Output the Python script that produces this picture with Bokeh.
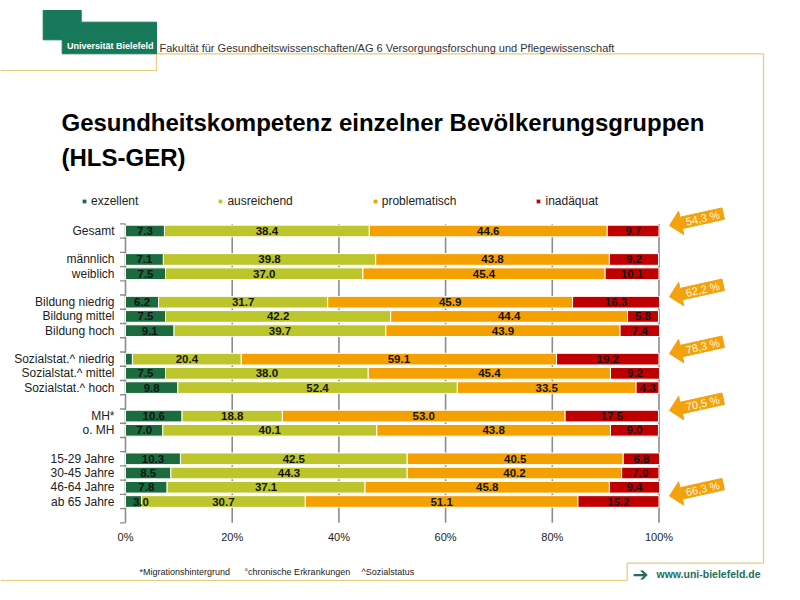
import math
from bokeh.plotting import figure
from bokeh.models import Range1d, ColumnDataSource, Legend, LegendItem
from bokeh.core.properties import value
from bokeh.embed import file_html
from bokeh.resources import INLINE

# ---------------- data ----------------
categories = ["Gesamt", "männlich", "weiblich",
              "Bildung niedrig", "Bildung mittel", "Bildung hoch",
              "Sozialstat.^ niedrig", "Sozialstat.^ mittel", "Sozialstat.^ hoch",
              "MH*", "o. MH",
              "15-29 Jahre", "30-45 Jahre", "46-64 Jahre", "ab 65 Jahre"]
group_sizes = [1, 2, 3, 3, 2, 4]
series = ["exzellent", "ausreichend", "problematisch", "inadäquat"]
exzellent = [7.3, 7.1, 7.5, 6.2, 7.5, 9.1, 1.3, 7.5, 9.8, 10.6, 7.0, 10.3, 8.5, 7.8, 3.0]
ausreichend = [38.4, 39.8, 37.0, 31.7, 42.2, 39.7, 20.4, 38.0, 52.4, 18.8, 40.1, 42.5, 44.3, 37.1, 30.7]
problematisch = [44.6, 43.8, 45.4, 45.9, 44.4, 43.9, 59.1, 45.4, 33.5, 53.0, 43.8, 40.5, 40.2, 45.8, 51.1]
inadaequat = [9.7, 9.2, 10.1, 16.3, 5.8, 7.4, 19.2, 9.2, 4.3, 17.5, 9.0, 6.8, 7.0, 9.4, 15.2]
x_ticks = [0, 20, 40, 60, 80, 100]
x_tick_labels = ["0%", "20%", "40%", "60%", "80%", "100%"]
highlight = ["Gesamt", "Bildung niedrig", "Sozialstat.^ niedrig", "MH*", "ab 65 Jahre"]
title_lines = ["Gesundheitskompetenz einzelner Bevölkerungsgruppen", "(HLS-GER)"]
header_text = "Fakultät für Gesundheitswissenschaften/AG 6 Versorgungsforschung und Pflegewissenschaft"
footnotes = ["*Migrationshintergrund", "°chronische Erkrankungen", "^Sozialstatus"]

colors = ["#1b6b3f", "#bcc62c", "#f4a000", "#c00000"]
values = [exzellent, ausreichend, problematisch, inadaequat]

# ---------------- layout helpers (reference pixel -> data) ----------------
W, H = 784, 584
X0, XS = 125.0, 5.335     # 0 % position and px per percent
Y0, YS = 230.5, 14.237    # first row position and px per row


def fx(px):
    return (px - X0) / XS


def fy(py):
    return (py - Y0) / YS


FONT = value("Liberation Sans")

p = figure(width=W, height=H, output_backend="svg", toolbar_location=None,
           x_range=Range1d(fx(0), fx(W)), y_range=Range1d(fy(H), fy(0)),
           min_border=0, outline_line_color=None)
p.xaxis.visible = False
p.yaxis.visible = False
p.grid.visible = False
p.background_fill_color = "white"
p.border_fill_color = "white"

# row positions with gaps between groups
rows = []
pos = 0
for g in group_sizes:
    for _ in range(g):
        rows.append(pos)
        pos += 1
    pos += 1
row_top = -0.5
row_bottom = rows[-1] + 1.5

# ---------------- frame decoration (header lines, logo) ----------------
line_col = "#e3cc7e"
bx = [0, 156, 156, 763, 763, 626.7, 626.7, 0]
by = [70, 70, 53.3, 53.3, 562.7, 562.7, 580, 580]
p.line([fx(v) for v in bx], [fy(v) for v in by], line_color=line_col, line_width=1.2)

logo_col = "#17785a"
p.quad(left=[fx(42.7), fx(42.7), fx(61.7)], right=[fx(80.7), fx(156), fx(156)],
       top=[fy(10), fy(21.7), fy(39.3)], bottom=[fy(21.7), fy(39.3), fy(53.3)],
       fill_color=logo_col, line_color=logo_col)
p.text(x=[fx(153)], y=[fy(45.5)], text=["Universität Bielefeld"], text_font=FONT,
       text_font_size="9px", text_font_style="bold", text_color="white",
       text_align="right", text_baseline="middle")
p.text(x=[fx(159)], y=[fy(47)], text=[header_text], text_font=FONT,
       text_font_size="11px", text_color="#333333", text_align="left", text_baseline="middle")

# title
p.text(x=[fx(61)] * 2, y=[fy(122), fy(157)], text=title_lines, text_font=FONT,
       text_font_size="24px", text_font_style="bold", text_color="#000000",
       text_align="left", text_baseline="middle")

# ---------------- axes / grid ----------------
grid_col = "#8c8c8c"
p.segment(x0=x_ticks, x1=x_ticks, y0=[row_top] * len(x_ticks), y1=[row_bottom] * len(x_ticks),
          line_color=grid_col, line_width=1.6)
bounds = [row_top + i for i in range(int(row_bottom - row_top) + 1)]
p.segment(x0=[fx(119.5)] * len(bounds), x1=[0] * len(bounds), y0=bounds, y1=bounds,
          line_color=grid_col, line_width=1.4)
p.text(x=x_ticks, y=[row_bottom + 1.0] * len(x_ticks), text=x_tick_labels, text_font=FONT,
       text_font_size="11px", text_color="#222222", text_align="center", text_baseline="middle")

# category labels
p.text(x=[fx(114)] * len(categories), y=rows, text=categories, text_font=FONT,
       text_font_size="12px", text_color="#222222", text_align="right", text_baseline="middle")

# ---------------- stacked bars ----------------
left = [0.0] * len(categories)
renderers = []
label_x, label_y, label_t = [], [], []
for name, vals, col in zip(series, values, colors):
    right = [l + v for l, v in zip(left, vals)]
    src = ColumnDataSource(dict(y=rows, left=left, right=right))
    r = p.hbar(y="y", left="left", right="right", height=0.82, source=src,
               fill_color=col, line_color="white", line_width=1)
    renderers.append(r)
    for l, v, yy in zip(left, vals, rows):
        if v >= 2:
            mid = l + v / 2
            if name == "exzellent":
                mid = max(mid, 2.9)
            label_x.append(mid)
            label_y.append(yy)
            label_t.append(f"{v:.1f}")
    left = right

p.text(x=label_x, y=label_y, text=label_t, text_font=FONT, text_font_size="11.5px",
       text_font_style="bold", text_color="#141414", text_align="center", text_baseline="middle")

# ---------------- legend ----------------
legend = Legend(items=[LegendItem(label=s, renderers=[r]) for s, r in zip(series, renderers)],
                orientation="horizontal", location=(81.0, 584 - 201.3 - 7), spacing=79,
                glyph_width=6, glyph_height=6, label_standoff=4, label_height=14,
                label_text_font="Liberation Sans", label_text_font_size="12px",
                label_text_color="#222222", padding=0, margin=0,
                border_line_color=None, background_fill_alpha=0)
p.add_layout(legend)

# ---------------- arrows with share of limited health literacy ----------------
theta = math.radians(12.5)
d = (math.cos(theta), -math.sin(theta))
n = (-math.sin(theta), -math.cos(theta))
local = [(0, 0), (12, 12), (12, 5.8), (55, 5.8), (55, -5.8), (12, -5.8), (12, -12)]
arrow_col = "#f3a20c"
axs, ays, tx, ty, tt = [], [], [], [], []
for cat in highlight:
    i = categories.index(cat)
    share = problematisch[i] + inadaequat[i]
    tipx, tipy = 669.0, Y0 + rows[i] * YS - 5.5
    pts = [(tipx + u * d[0] + v * n[0], tipy + u * d[1] + v * n[1]) for u, v in local]
    axs.append([fx(a) for a, _ in pts])
    ays.append([fy(b) for _, b in pts])
    cx, cy = tipx + 34 * d[0], tipy + 34 * d[1]
    tx.append(fx(cx))
    ty.append(fy(cy))
    tt.append(f"{share:.1f}".replace(".", ",") + " %")
p.patches(xs=axs, ys=ays, fill_color=arrow_col, line_color=arrow_col)
p.text(x=tx, y=ty, text=tt, angle=theta, text_font=FONT, text_font_size="11px",
       text_color="#fff6dc", text_align="center", text_baseline="middle")

# ---------------- footer ----------------
p.text(x=[fx(139), fx(244), fx(361)], y=[fy(571)] * 3, text=footnotes, text_font=FONT,
       text_font_size="9px", text_color="#222222", text_align="left", text_baseline="middle")
web_col = "#1d6e5e"
p.text(x=[fx(632)], y=[fy(573)], text=["➔"], text_font=value("DejaVu Sans"),
       text_font_size="19px", text_color=web_col, text_align="left", text_baseline="middle")
p.text(x=[fx(656)], y=[fy(573.3)], text=["www.uni-bielefeld.de"], text_font=FONT,
       text_font_size="10.5px", text_font_style="bold", text_color=web_col,
       text_align="left", text_baseline="middle")

open("out.html", "w").write(file_html(p, INLINE))
